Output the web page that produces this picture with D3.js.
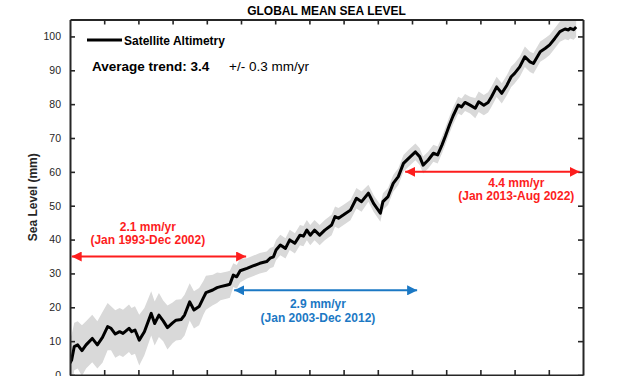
<!DOCTYPE html>
<html>
<head>
<meta charset="utf-8">
<script src="https://cdn.jsdelivr.net/npm/d3@7"></script>
<style>
  html, body { margin: 0; padding: 0; background: #fff; }
  svg { display: block; font-family: "Liberation Sans", Arial, Helvetica, sans-serif; }
</style>
</head>
<body>
<svg id="chart" width="627" height="376"></svg>
<script>
// satellite altimetry GMSL (decimal year, mm)
const years = [
  1993.0, 1993.1, 1993.25, 1993.45, 1993.7, 1993.94, 1994.3, 1994.6, 1994.9, 1995.2,
  1995.4, 1995.65, 1995.9, 1996.1, 1996.45, 1996.6, 1996.8, 1997.05, 1997.35, 1997.75,
  1997.95, 1998.2, 1998.45, 1998.7, 1999.0, 1999.2, 1999.5, 1999.7, 2000.0, 2000.25,
  2000.55, 2000.8, 2000.95, 2001.35, 2001.6, 2001.8, 2002.2, 2002.35, 2002.55, 2002.75,
  2002.95, 2003.35, 2003.7, 2004.1, 2004.5, 2004.7, 2004.9, 2005.05, 2005.3, 2005.6,
  2005.85, 2006.15, 2006.45, 2006.65, 2006.85, 2007.05, 2007.3, 2007.6, 2007.9, 2008.3,
  2008.5, 2008.7, 2009.0, 2009.4, 2009.75, 2010.05, 2010.45, 2010.6, 2010.75, 2011.15,
  2011.3, 2011.6, 2011.9, 2012.2, 2012.5, 2012.8, 2013.2, 2013.45, 2013.65, 2013.95,
  2014.25, 2014.5, 2014.75, 2014.95, 2015.2, 2015.4, 2015.7, 2015.9, 2016.1, 2016.4,
  2016.7, 2016.9, 2017.2, 2017.45, 2017.65, 2017.95, 2018.25, 2018.55, 2018.8, 2019.0,
  2019.3, 2019.6, 2019.9, 2020.1, 2020.5, 2020.8, 2021.05, 2021.35, 2021.65, 2021.95,
  2022.15, 2022.25, 2022.45, 2022.6
];
const gmsl = [
  3.5, 4.5, 8.4, 8.9, 7.2, 8.9, 10.8, 8.9, 11.1, 14.3,
  13.8, 12.1, 12.8, 12.3, 13.8, 12.8, 13.3, 10.3, 12.8, 18.2,
  15.2, 17.7, 16.0, 14.0, 15.4, 16.2, 16.4, 17.7, 21.6, 19.2,
  20.2, 22.8, 24.3, 25.1, 25.8, 26.1, 26.6, 26.8, 29.5, 29.0,
  30.8, 31.5, 32.2, 33.0, 33.5, 34.5, 34.9, 36.9, 38.4, 37.4,
  39.9, 38.9, 41.3, 41.0, 42.8, 41.3, 42.8, 41.3, 42.8, 44.3,
  46.8, 46.3, 47.3, 48.7, 52.2, 51.2, 53.7, 52.2, 50.7, 47.8,
  51.2, 52.7, 56.6, 58.6, 62.5, 64.0, 65.9, 64.5, 62.0, 63.5,
  65.5, 65.0, 67.9, 70.5, 74.0, 76.5, 79.7, 79.2, 80.5, 79.7,
  78.8, 80.7, 79.7, 80.5, 82.2, 85.1, 83.2, 85.6, 88.1, 89.1,
  91.0, 94.0, 92.5, 92.0, 95.5, 96.5, 97.5, 99.4, 101.4, 102.2,
  101.9, 102.4, 102.0, 102.8
];
// half width of the grey uncertainty envelope (mm)
const bandHalf = [
  7, 7.5, 7, 7, 7.5, 7, 7, 7, 7.5, 7,
  6.5, 7, 7, 7, 7, 7, 7, 7.5, 7, 6.5,
  6.5, 6.5, 6, 6.5, 6, 6, 6, 6, 5.5, 5.5,
  5.5, 5, 5, 4.5, 4.5, 4, 4, 4, 3.5, 3.5,
  3.5, 3, 3, 3, 3, 3, 3, 3, 3, 3,
  3, 3, 3, 3, 3, 3, 3, 3, 3, 3,
  3, 3, 3, 3, 3, 3, 2.5, 2.5, 2.5, 2.5,
  2.5, 2.5, 2.5, 2.5, 2.5, 2.5, 2.5, 2.5, 2.5, 2.5,
  2.5, 2.5, 2.5, 2.5, 2.5, 2.5, 2.5, 2.5, 2.5, 2.5,
  3, 3, 3, 3, 3, 3, 3, 3, 3, 3,
  3, 3, 3, 3, 3, 3, 3, 3, 3, 3,
  3, 3, 3, 3
];

const yTicks = [0, 10, 20, 30, 40, 50, 60, 70, 80, 90, 100];
const xTicks = [1995, 1997, 1999, 2001, 2003, 2005, 2007, 2009, 2011, 2013, 2015, 2017, 2019, 2021];

// trend periods: [start, end], level the arrow is drawn at, rate text, period text
const trendStart = [1993.1, 2002.6, 2012.6];
const trendEnd = [2003.3, 2013.3, 2022.8];
const trendLevel = [35, 25, 60];
const trendRate = ['2.1 mm/yr', '2.9 mm/yr', '4.4 mm/yr'];
const trendPeriod = ['(Jan 1993-Dec 2002)', '(Jan 2003-Dec 2012)', '(Jan 2013-Aug 2022)'];

const data = years.map((yr, i) => ({ yr, v: gmsl[i], h: bandHalf[i] }));

const svg = d3.select('#chart');
const mLeft = 70, mRight = 583, mTop = 19.5, mBottom = 375;

const x = d3.scaleLinear().domain([1993, 2023]).range([mLeft, mRight]);
const y = d3.scaleLinear().domain([0, 105]).range([mBottom, mTop]);

const ink = '#262626';
const red = '#fd1d1d';
const blue = '#1b78c4';

const defs = svg.append('defs');
defs.append('clipPath').attr('id', 'plot')
  .append('rect').attr('x', mLeft).attr('y', mTop).attr('width', mRight - mLeft).attr('height', mBottom - mTop);

// envelope + line
const plot = svg.append('g').attr('clip-path', 'url(#plot)');
plot.append('path')
  .datum(data)
  .attr('fill', '#d9d9d9')
  .attr('d', d3.area().x(d => x(d.yr)).y0(d => y(d.v - d.h)).y1(d => y(d.v + d.h)));
plot.append('path')
  .datum(data)
  .attr('fill', 'none')
  .attr('stroke', '#000')
  .attr('stroke-width', 3)
  .attr('stroke-linejoin', 'round')
  .attr('d', d3.line().x(d => x(d.yr)).y(d => y(d.v)));

// axes, ticks inside on all four sides
const axes = [
  d3.axisLeft(y).tickValues(yTicks).tickSizeInner(-5).tickSizeOuter(0).tickPadding(9),
  d3.axisRight(y).tickValues(yTicks).tickSizeInner(-5).tickSizeOuter(0).tickFormat(''),
  d3.axisTop(x).tickValues(xTicks).tickSizeInner(-5).tickSizeOuter(0).tickFormat(''),
  d3.axisBottom(x).tickValues(xTicks).tickSizeInner(-5).tickSizeOuter(0).tickFormat('')
];
const shifts = [[mLeft, 0], [mRight, 0], [0, mTop], [0, mBottom]];
axes.forEach((ax, i) => {
  const g = svg.append('g').attr('transform', `translate(${shifts[i][0]},${shifts[i][1]})`).call(ax);
  g.select('.domain').attr('stroke', ink).attr('stroke-width', 2);
  g.selectAll('.tick line').attr('stroke', ink).attr('stroke-width', 1.6);
  g.selectAll('.tick text').attr('fill', ink).attr('font-size', 10.5).attr('font-family', 'Liberation Sans, Arial, sans-serif');
});

// title + y label
svg.append('text').attr('x', (mLeft + mRight) / 2).attr('y', 15).attr('text-anchor', 'middle')
  .attr('font-size', 12).attr('font-weight', 'bold').attr('fill', '#000').text('GLOBAL MEAN SEA LEVEL');
svg.append('text').attr('transform', `translate(37,${(mTop + mBottom) / 2}) rotate(-90)`)
  .attr('text-anchor', 'middle').attr('font-size', 12).attr('font-weight', 'bold').attr('fill', ink)
  .text('Sea Level (mm)');

// legend
svg.append('line').attr('x1', 87).attr('x2', 122).attr('y1', 40).attr('y2', 40)
  .attr('stroke', '#000').attr('stroke-width', 3);
svg.append('text').attr('x', 124).attr('y', 45).attr('font-size', 12).attr('font-weight', 'bold')
  .attr('fill', '#000').text('Satellite Altimetry');
const avg = svg.append('text').attr('x', 92).attr('y', 71).attr('font-size', 13.5).attr('fill', '#000');
avg.append('tspan').attr('font-weight', 'bold').text('Average trend: 3.4');
avg.append('tspan').attr('x', 229).text('+/- 0.3 mm/yr');

// trend arrows
[['red', red], ['blue', blue]].forEach(([name, col]) => {
  defs.append('marker').attr('id', 'head-' + name).attr('viewBox', '0 0 10 10')
    .attr('refX', 10).attr('refY', 5).attr('markerWidth', 10).attr('markerHeight', 10)
    .attr('markerUnits', 'userSpaceOnUse').attr('orient', 'auto-start-reverse')
    .append('path').attr('d', 'M0,0 L10,5 L0,10 Z').attr('fill', col);
});
const trendColor = [red, blue, red];
const trendMarker = ['red', 'blue', 'red'];
const textX = [1997.55, 2007.5, 2019.1];
const textDy = [-12, 18, 15];

trendStart.forEach((s, i) => {
  svg.append('line')
    .attr('x1', x(s)).attr('x2', x(trendEnd[i]))
    .attr('y1', y(trendLevel[i])).attr('y2', y(trendLevel[i]))
    .attr('stroke', trendColor[i]).attr('stroke-width', 2)
    .attr('marker-start', `url(#head-${trendMarker[i]})`)
    .attr('marker-end', `url(#head-${trendMarker[i]})`);
  const ty = y(trendLevel[i]) + textDy[i];
  const base = i === 0 ? ty - 14 : ty;
  svg.append('text').attr('x', x(textX[i])).attr('y', base).attr('text-anchor', 'middle')
    .attr('font-size', 12).attr('font-weight', 'bold').attr('fill', trendColor[i]).text(trendRate[i]);
  svg.append('text').attr('x', x(textX[i])).attr('y', base + 13.5).attr('text-anchor', 'middle')
    .attr('font-size', 12).attr('font-weight', 'bold').attr('fill', trendColor[i]).text(trendPeriod[i]);
});
</script>
</body>
</html>
